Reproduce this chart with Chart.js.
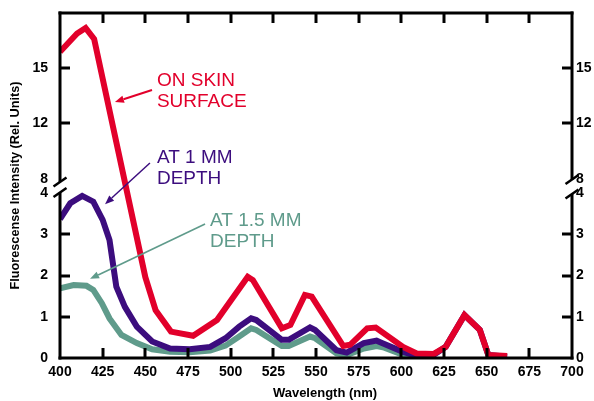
<!DOCTYPE html>
<html><head><meta charset="utf-8">
<script src="https://cdn.jsdelivr.net/npm/chart.js@4/dist/chart.umd.min.js"></script>
<style>html,body{margin:0;padding:0;background:#fff}</style>
</head><body>
<canvas id="c" width="594" height="401"></canvas>
<script>
// ---- data ----
const skinWavelengths = [400,410,415,420,450,456,465,478,492,510,513,530,535,543.5,547.5,566,570,580,585,601,609,619,626,637,646,651,662];
const skinValues      = [15.9,16.9,17.2,16.6,1.96,1.16,0.64,0.54,0.92,1.97,1.89,0.72,0.80,1.53,1.49,0.29,0.32,0.72,0.74,0.27,0.11,0.10,0.27,1.04,0.68,0.07,0.05];
const depth1Wavelengths = [400,406,413,419.5,425,429,433,438,445,454,464.5,476,488,497,505,512,515,530,534,546.5,549.5,562,568,578,585.5,589,601,609,619,626,637,646,651,662];
const depth1Values      = [3.37,3.75,3.93,3.79,3.35,2.86,1.73,1.24,0.76,0.40,0.23,0.21,0.27,0.48,0.76,0.96,0.92,0.44,0.44,0.74,0.68,0.19,0.13,0.36,0.42,0.36,0.15,0.05,0.08,0.27,1.04,0.68,0.07,0.03];
const depth15Wavelengths = [400,408,415.5,419.5,424.5,429,436,445,454,464.5,476,488,497,505,512,515,530,534,546.5,549.5,562,568,578,585.5,590,601,610];
const depth15Values      = [1.69,1.77,1.75,1.65,1.33,0.96,0.56,0.36,0.21,0.15,0.14,0.18,0.30,0.52,0.72,0.68,0.29,0.29,0.52,0.48,0.11,0.07,0.23,0.29,0.25,0.08,0.03];
const xTickValues = [400,425,450,475,500,525,550,575,600,625,650,675,700];
const yTickValues = [0,1,2,3,4,8,12,15];
const yTickLabels = ['0','1','2','3','4','8','12','15'];
const seriesNames = ['On skin surface','At 1 mm depth','At 1.5 mm depth'];

// ---- styles ----
const RED = '#e2002b', PURPLE = '#3c0d7e', TEAL = '#5f9b8b';
const FONT = '"Liberation Sans", Arial, Helvetica, sans-serif';

// ---- broken y axis: value -> axis units ----
const breakKnots = [[0,0],[4,4],[8,4.339],[12,5.690],[15,7.023]];
const topSlope = 0.4444;
const yAxisMax = 8.364;
function toAxis(v){
  for (let i=1;i<breakKnots.length;i++){
    const [v0,u0]=breakKnots[i-1],[v1,u1]=breakKnots[i];
    if (v<=v1) return u0+(v-v0)*(u1-u0)/(v1-v0);
  }
  const [vl,ul]=breakKnots[breakKnots.length-1];
  return ul+(v-vl)*topSlope;
}
const pts = (xs,ys)=>xs.map((x,i)=>({x, y:toAxis(ys[i])}));

// ---- annotations (anchored in data units) ----
const notes = [
  {lines:['ON SKIN','SURFACE'], color:RED, at:[456.8,14.03], from:[453.9,13.82], to:[432.2,13.16], lw:2},
  {lines:['AT 1 MM','DEPTH'], color:PURPLE, at:[456.8,9.13], from:[452.7,9.15], to:[426.4,3.73], lw:1.5},
  {lines:['AT 1.5 MM','DEPTH'], color:TEAL, at:[487.9,3.21], from:[485,3.25], to:[417.6,1.92], lw:1.6}
];

function seg(ctx, x1, y1, x2, y2){ ctx.beginPath(); ctx.moveTo(x1,y1); ctx.lineTo(x2,y2); ctx.stroke(); }

const framePlugin = {
  id:'frame',
  afterDraw(chart){
    const ctx = chart.ctx, a = chart.chartArea;
    const x = chart.scales.x, y = chart.scales.y;
    const px = v => x.getPixelForValue(v);
    const py = v => y.getPixelForValue(toAxis(v));
    const L = a.left, R = a.right, T = a.top, B = a.bottom;
    ctx.save();
    ctx.fillStyle = '#000000';
    // frame drawn as filled rectangles (3px)
    ctx.fillRect(L-1.5, T-1.5, R-L+3, 3);
    ctx.fillRect(L-1.5, B-1.5, R-L+3, 3);
    const sides = [{xc:L, g1:py(8)+3, g2:py(4)-0.5},{xc:R, g1:py(8)+0.5, g2:py(4)+1}];
    sides.forEach(s=>{
      ctx.fillRect(s.xc-1.5, T-1.5, 3, s.g1-T+1.5);
      ctx.fillRect(s.xc-1.5, s.g2, 3, B+1.5-s.g2);
    });
    ctx.strokeStyle = '#000000';
    ctx.lineWidth = 3;
    ctx.lineCap = 'butt';
    // inward ticks
    x.ticks.forEach(t=>{
      if (t.value===x.min || t.value===x.max) return;
      const p = Math.round(px(t.value));
      seg(ctx, p, B, p, B-10);
      seg(ctx, p, T, p, T+10);
    });
    yTickValues.forEach(v=>{
      if (v===0 || v===4 || v===8) return;
      const p = Math.round(py(v));
      seg(ctx, L, p, L+10, p);
      seg(ctx, R, p, R-10, p);
    });
    // break slashes
    ctx.lineWidth = 2.5;
    sides.forEach(s=>{
      [s.g1, s.g2].forEach(yc=>seg(ctx, s.xc-6.5, yc+4.5, s.xc+6.5, yc-4.5));
    });
    // annotations
    ctx.font = '19px ' + FONT;
    ctx.textAlign = 'left'; ctx.textBaseline = 'alphabetic';
    notes.forEach(n=>{
      ctx.fillStyle = n.color; ctx.strokeStyle = n.color;
      const tx = px(n.at[0]), ty = py(n.at[1]);
      n.lines.forEach((l,i)=>ctx.fillText(l, tx, ty + i*21.2));
      const x1 = px(n.from[0]), y1 = py(n.from[1]);
      const x2 = px(n.to[0]), y2 = py(n.to[1]);
      const ang = Math.atan2(y2-y1, x2-x1);
      const HL = 9, HW = 3.6;
      const bx = x2 - HL*Math.cos(ang), by = y2 - HL*Math.sin(ang);
      ctx.lineWidth = n.lw;
      seg(ctx, x1, y1, bx, by);
      ctx.beginPath();
      ctx.moveTo(x2,y2);
      ctx.lineTo(bx + HW*Math.sin(ang), by - HW*Math.cos(ang));
      ctx.lineTo(bx - HW*Math.sin(ang), by + HW*Math.cos(ang));
      ctx.closePath(); ctx.fill();
    });
    // x axis title
    ctx.fillStyle = '#000';
    ctx.font = 'bold 13px ' + FONT;
    ctx.textAlign = 'center';
    ctx.fillText('Wavelength (nm)', (a.left+a.right)/2 + 9, a.bottom + 39);
    ctx.restore();
  }
};

const tickFont = {family: FONT, size: 14, weight: 'bold'};
const yAxisBase = {
  type:'linear', min:0, max:yAxisMax,
  grid:{display:false, drawTicks:false}, border:{display:false},
  afterBuildTicks: s => { s.ticks = yTickValues.map(v=>({value:toAxis(v)})); },
  ticks:{font:tickFont, color:'#000', autoSkip:false, callback:(val,i)=>yTickLabels[i]}
};

new Chart(document.getElementById('c'), {
  type:'line',
  data:{
    datasets:[
      {label:seriesNames[0], data:pts(skinWavelengths, skinValues), borderColor:RED, borderWidth:6, pointRadius:0, tension:0},
      {label:seriesNames[1], data:pts(depth1Wavelengths, depth1Values), borderColor:PURPLE, borderWidth:6, pointRadius:0, tension:0},
      {label:seriesNames[2], data:pts(depth15Wavelengths, depth15Values), borderColor:TEAL, borderWidth:6, pointRadius:0, tension:0}
    ]
  },
  options:{
    responsive:false, animation:false, devicePixelRatio:1,
    layout:{padding:{top:13, left:0, right:0, bottom:0}},
    plugins:{legend:{display:false}, tooltip:{enabled:false}},
    scales:{
      x:{type:'linear', min:400, max:700, position:'bottom',
        grid:{display:false, drawTicks:false}, border:{display:false},
        afterBuildTicks: s => { s.ticks = xTickValues.map(v=>({value:v})); },
        ticks:{font:tickFont, color:'#000', padding:6, autoSkip:false, maxRotation:0},
        afterFit: s => { s.height = 43; s.paddingLeft = 0; s.paddingRight = 0; }
      },
      y:Object.assign({}, yAxisBase, {position:'left',
        ticks:Object.assign({}, yAxisBase.ticks, {padding:12}),
        title:{display:true, text:'Fluorescense Intensity (Rel. Units)', color:'#000',
          font:{family:FONT, size:12.7, weight:'bold'}, padding:{top:8, bottom:0}},
        afterFit: s => { s.width = 60; s.paddingTop = 0; s.paddingBottom = 0; }
      }),
      y2:Object.assign({}, yAxisBase, {position:'right',
        ticks:Object.assign({}, yAxisBase.ticks, {padding:4}),
        afterFit: s => { s.width = 22; s.paddingTop = 0; s.paddingBottom = 0; }
      })
    }
  },
  plugins:[framePlugin]
});
</script>
</body></html>
